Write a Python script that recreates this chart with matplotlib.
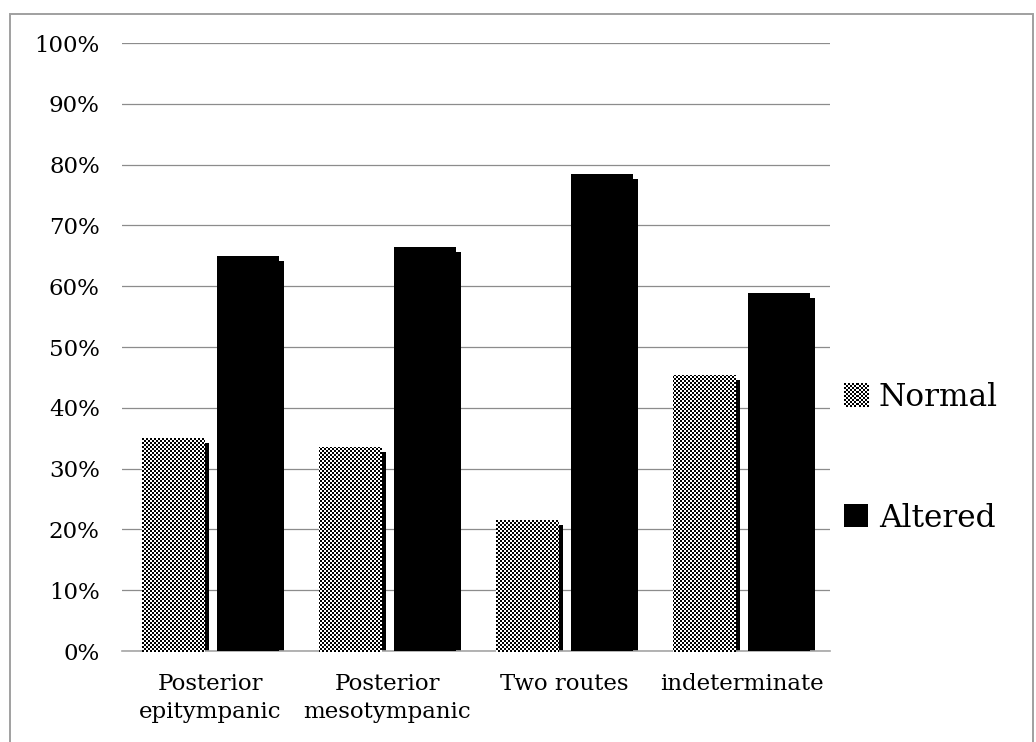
import numpy as np
import matplotlib
matplotlib.use("Agg")
import matplotlib.pyplot as plt
from matplotlib.patches import Rectangle
from matplotlib.transforms import ScaledTranslation, Bbox, TransformedBbox
from matplotlib.image import BboxImage
from matplotlib.legend_handler import HandlerBase

categories = ["Posterior\nepitympanic", "Posterior\nmesotympanic", "Two routes", "indeterminate"]
normal = [35.0, 33.6, 21.5, 45.4]
altered = [65.0, 66.5, 78.5, 58.9]
yticks = list(range(0, 101, 10))

W, H = 1036, 742
plt.rcParams["font.family"] = ["DejaVu Serif"]

fig = plt.figure(figsize=(W / 100, H / 100), dpi=100)
ax_l, ax_r, ax_t, ax_b = 122, 830, 43, 651
ax = fig.add_axes([ax_l / W, 1 - ax_b / H, (ax_r - ax_l) / W, (ax_b - ax_t) / H])

x = np.arange(len(categories))
width = 0.345
off = 0.212


def checker(h, w, cell=2):
    yy, xx = np.mgrid[0:h, 0:w]
    return ((yy // cell + xx // cell) % 2).astype(float)


# drop shadow: same bars shifted 5px right, 5px down
shadow = ax.transData + ScaledTranslation(5 / 100, -5 / 100, fig.dpi_scale_trans)
ax.bar(x - off, normal, width, color="black", transform=shadow, zorder=2)
ax.bar(x + off, altered, width, color="black", transform=shadow, zorder=2)

nbars = ax.bar(x - off, normal, width, color="white", zorder=3)
ax.bar(x + off, altered, width, color="black", zorder=3)

ax.set_xlim(-0.5, 3.5)
ax.set_ylim(0, 100)

# checkerboard fill for the Normal series, pixel-exact via figimage
pat = checker(H, W)
for b in nbars:
    im = fig.figimage(pat, xo=0, yo=0, cmap="gray", vmin=0, vmax=1,
                      origin="lower", zorder=5)
    im.set_clip_path(b)

ax.set_yticks(yticks)
ax.set_yticklabels([f"{v}%" for v in yticks], fontsize=16.5)
ax.set_xticks(x)
ax.set_xticklabels(categories, fontsize=16.5, linespacing=1.35)
ax.tick_params(axis="y", length=0, pad=16)
ax.tick_params(axis="x", length=0, pad=16)
ax.grid(axis="y", color="#8c8c8c", linewidth=0.9, zorder=0)
ax.set_axisbelow(True)
for s in ["left", "right", "top"]:
    ax.spines[s].set_visible(False)
ax.spines["bottom"].set_color("#a6a6a6")
ax.spines["bottom"].set_linewidth(1.2)


class CheckerHandler(HandlerBase):
    def create_artists(self, legend, orig_handle, xdescent, ydescent,
                       width, height, fontsize, trans):
        bb = TransformedBbox(Bbox.from_bounds(-xdescent, -ydescent, width, height), trans)
        img = BboxImage(bb, cmap="gray", interpolation="nearest", norm=plt.Normalize(0, 1))
        img.set_data(checker(24, 24))
        return [img]


h_norm = Rectangle((0, 0), 1, 1, facecolor="white")
h_alt = Rectangle((0, 0), 1, 1, facecolor="black")
fig.legend([h_norm, h_alt], ["Normal", "Altered"], loc="center left",
           bbox_to_anchor=(844 / W, 1 - 458 / H), frameon=False, fontsize=22.5,
           handlelength=0.77, handleheight=0.77, handletextpad=0.35,
           labelspacing=2.85, borderpad=0, borderaxespad=0,
           handler_map={h_norm: CheckerHandler()})

# outer chart border
fig.patches.append(Rectangle((10 / W, -0.05), 1023 / W, 1 - 14 / H + 0.05,
                             transform=fig.transFigure, fill=False,
                             edgecolor="#a0a0a0", linewidth=1.4))

fig.savefig("out.png", dpi=100)
